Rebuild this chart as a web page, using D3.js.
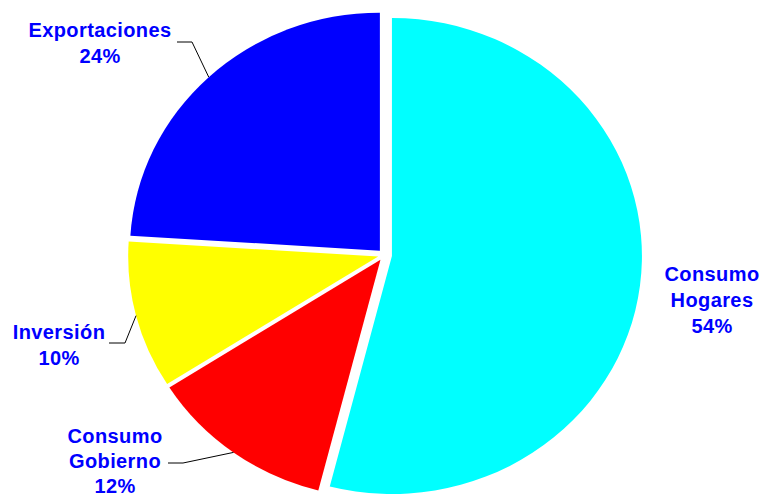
<!DOCTYPE html>
<html>
<head>
<meta charset="utf-8">
<script src="https://cdn.jsdelivr.net/npm/d3@7"></script>
<style>
  html, body { margin: 0; padding: 0; background: #fff; }
  text { font-family: "Liberation Sans", Arial, sans-serif; font-weight: bold; }
</style>
</head>
<body>
<div id="chart"></div>
<script>
// datos del gráfico (sentido horario desde las 12)
const categorias = ["Consumo Hogares", "Consumo Gobierno", "Inversión", "Exportaciones"];
const valores = [54, 12, 10, 24];
const etiquetas = [["Consumo", "Hogares", "54%"], ["Consumo", "Gobierno", "12%"], ["Inversión", "10%"], ["Exportaciones", "24%"]];
const colores = ["#00FFFF", "#FF0000", "#FFFF00", "#0000FF"];

const width = 763, height = 499;
const cx = 384, cy = 255;
const ry = 238, sx = 250 / 238;      // el pastel está algo estirado en horizontal
const explode = [8, 6, 6, 6];

// posiciones de etiquetas y codos de las líneas guía
const labelPos = [[712, 281], [115, 443], [59, 339], [100, 37]];
const lineH = [26, 25, 26, 26];
const guias = [null, [[183, 463], [168, 463]], [[125, 343], [109, 343]], [[192, 42], [177, 42]]];

const svg = d3.select("#chart").append("svg")
  .attr("width", width)
  .attr("height", height);

const pie = d3.pie().sort(null).value(d => d.v);
const arc = d3.arc().innerRadius(0).outerRadius(ry);

const data = pie(categorias.map((c, i) => ({ c, v: valores[i], i })));

data.forEach(d => {
  const i = d.data.i;
  const mid = (d.startAngle + d.endAngle) / 2;
  const ax = cx + Math.sin(mid) * explode[i];
  const ay = cy - Math.cos(mid) * explode[i];

  svg.append("g")
    .attr("transform", `translate(${ax},${ay}) scale(${sx},1)`)
    .append("path")
    .attr("d", arc(d))
    .attr("fill", colores[i]);

  // línea guía
  if (guias[i]) {
    const px = ax + Math.sin(mid) * ry * sx;
    const py = ay - Math.cos(mid) * ry;
    const pts = [[px, py]].concat(guias[i]);
    svg.append("path")
      .attr("d", d3.line()(pts))
      .attr("fill", "none")
      .attr("stroke", "#000")
      .attr("stroke-width", 1);
  }

  // etiqueta
  const t = svg.append("text")
    .attr("x", labelPos[i][0])
    .attr("y", labelPos[i][1])
    .attr("text-anchor", "middle")
    .attr("font-size", "20px")
    .attr("letter-spacing", "0.4px")
    .attr("fill", "#0000FF");
  etiquetas[i].forEach((linea, k) => {
    t.append("tspan")
      .attr("x", labelPos[i][0])
      .attr("dy", k === 0 ? 0 : lineH[i])
      .text(linea);
  });
});
</script>
</body>
</html>
